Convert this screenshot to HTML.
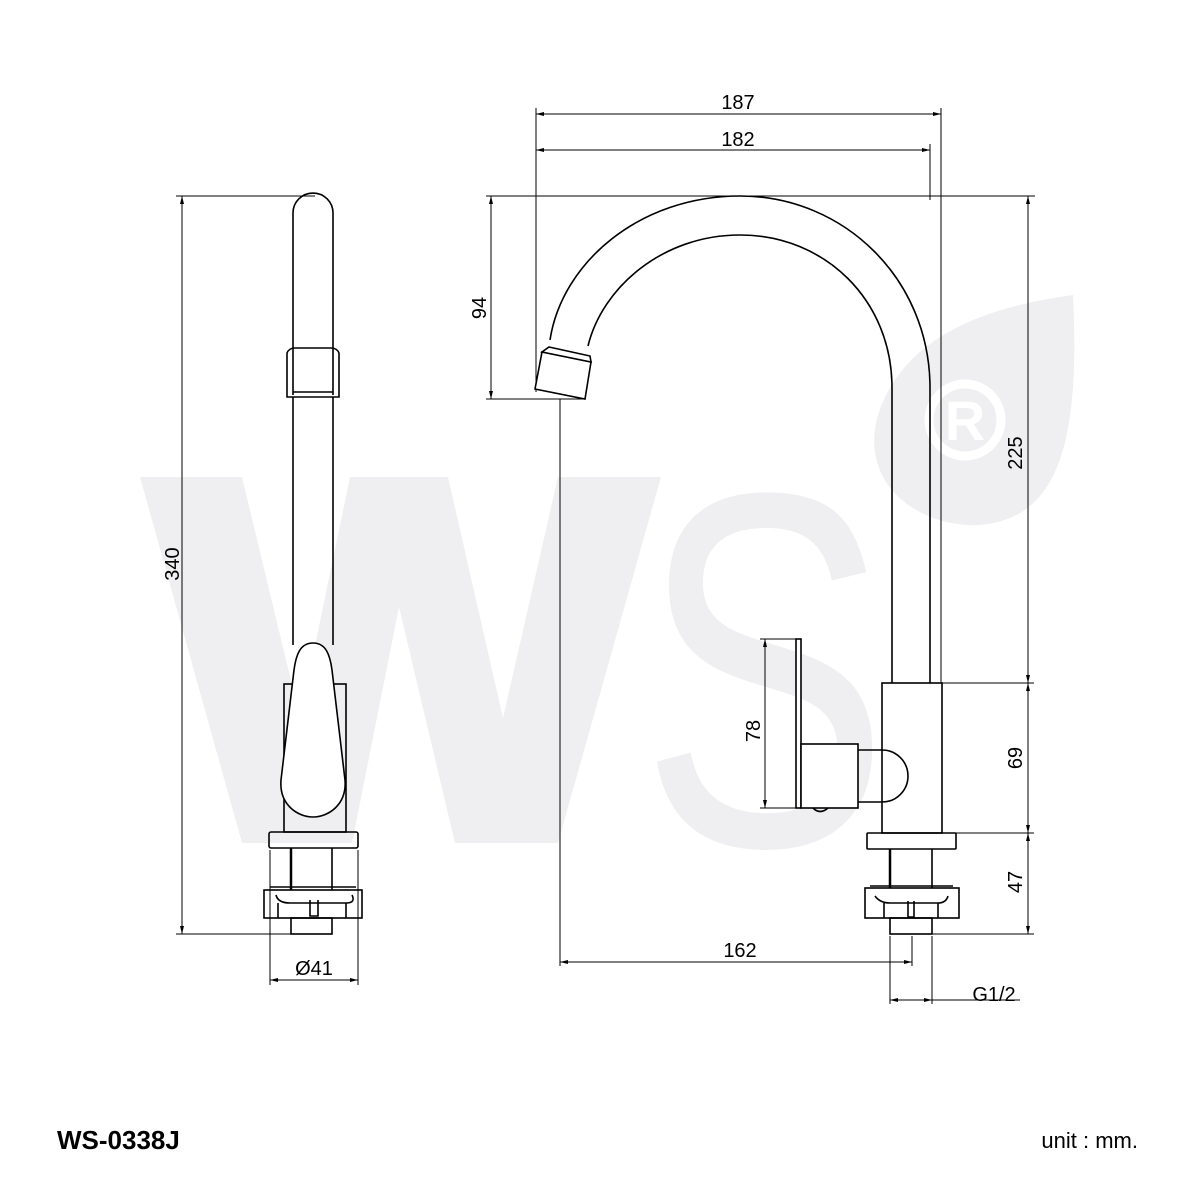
<!DOCTYPE html>
<html><head><meta charset="utf-8"><style>
html,body{margin:0;padding:0;background:#fff;}
svg{display:block;}
text{font-family:"Liberation Sans",sans-serif;}
</style></head><body>
<svg width="1181" height="1181" viewBox="0 0 1181 1181" xmlns="http://www.w3.org/2000/svg">
<g fill="#efeff1">
<polygon points="140,477 242,477 300,718 350,477 448,477 503,718 558,477 661,477 558,843 455,843 399,607 352,843 242,843"/>
<text x="0" y="0" font-size="505" transform="translate(640,845) scale(0.74,1)">S</text>
<path d="M1073,295 C1000,305 905,330 878,415 C858,485 920,528 980,525 C1060,518 1080,440 1073,295 Z"/>
</g>
<circle cx="965" cy="420" r="36" fill="none" stroke="#fff" stroke-width="9"/>
<text x="965" y="440" font-size="56" font-weight="bold" fill="#fff" text-anchor="middle">R</text>

<g fill="none" stroke="#000" stroke-width="1">
<line x1="182" y1="196" x2="182" y2="934"/>
<line x1="176" y1="196" x2="315" y2="196"/>
<line x1="176" y1="934" x2="292" y2="934"/>
<line x1="270" y1="850" x2="270" y2="985"/>
<line x1="358" y1="850" x2="358" y2="985"/>
<line x1="270" y1="980" x2="358" y2="980"/>
<line x1="536" y1="108" x2="536" y2="392"/>
<line x1="941" y1="108" x2="941" y2="683"/>
<line x1="930" y1="144" x2="930" y2="200"/>
<line x1="536" y1="114" x2="941" y2="114"/>
<line x1="536" y1="150" x2="930" y2="150"/>
<line x1="486" y1="196" x2="1035" y2="196"/>
<line x1="491" y1="196" x2="491" y2="399"/>
<line x1="486" y1="399" x2="585" y2="399"/>
<line x1="560" y1="399" x2="560" y2="966"/>
<line x1="1028" y1="196" x2="1028" y2="934"/>
<line x1="942" y1="683" x2="1034" y2="683"/>
<line x1="956" y1="833" x2="1034" y2="833"/>
<line x1="932" y1="934" x2="1034" y2="934"/>
<line x1="765" y1="639" x2="765" y2="808"/>
<line x1="760" y1="639" x2="796" y2="639"/>
<line x1="760" y1="808" x2="796" y2="808"/>
<line x1="560" y1="962" x2="912" y2="962"/>
<line x1="912" y1="936" x2="912" y2="966"/>
<line x1="890" y1="936" x2="890" y2="1004"/>
<line x1="932" y1="936" x2="932" y2="1004"/>
<line x1="890" y1="1000" x2="1020" y2="1000"/>
</g>
<g fill="#000">
<polygon points="182,196 180,204 184,204"/><polygon points="182,934 180,926 184,926"/>
<polygon points="270,980 278,978 278,982"/><polygon points="358,980 350,978 350,982"/>
<polygon points="536,114 544,112 544,116"/><polygon points="941,114 933,112 933,116"/>
<polygon points="536,150 544,148 544,152"/><polygon points="930,150 922,148 922,152"/>
<polygon points="491,196 489,204 493,204"/><polygon points="491,399 489,391 493,391"/>
<polygon points="1028,196 1026,204 1030,204"/><polygon points="1028,683 1026,675 1030,675"/>
<polygon points="1028,683 1026,691 1030,691"/><polygon points="1028,833 1026,825 1030,825"/>
<polygon points="1028,833 1026,841 1030,841"/><polygon points="1028,934 1026,926 1030,926"/>
<polygon points="765,639 763,647 767,647"/><polygon points="765,808 763,800 767,800"/>
<polygon points="560,962 568,960 568,964"/><polygon points="912,962 904,960 904,964"/>
<polygon points="890,1000 898,998 898,1002"/><polygon points="932,1000 924,998 924,1002"/>
</g>

<g fill="none" stroke="#000" stroke-width="1.6">
<path d="M293,395 V213 A20,20 0 0 1 333,213 V395"/>
<path d="M287,353 Q289,348 295,348 H331 Q337,348 339,353 V397 H287 Z"/>
<line x1="293" y1="392" x2="333" y2="392"/>
<line x1="293" y1="397" x2="293" y2="645"/>
<line x1="333" y1="397" x2="333" y2="645"/>
<rect x="284" y="684" width="62" height="148"/>
<path d="M313,643 C300,643 296,655 294,670 L281,780 C279,805 298,817 313,817 C328,817 347,805 345,780 L332,670 C330,655 326,643 313,643 Z" fill="#fff"/>
<rect x="269" y="832" width="89" height="16" rx="2"/>
<line x1="291" y1="848" x2="291" y2="890" stroke-width="2.5"/>
<line x1="332" y1="848" x2="332" y2="890"/>
<rect x="264" y="890" width="98" height="28"/>
<line x1="270" y1="887" x2="356" y2="887"/>
<path d="M276,895 Q278,903 290,903 H346 Q356,903 352,895"/>
<path d="M278,903 V918 M346,903 V918 M310,900 V916 H318 V900"/>
<rect x="291" y="918" width="41" height="16"/>
<path d="M930,683 V388 C930,280 845,196 740,196 C640,196 562,262 550,340"/>
<path d="M892,683 V388 C892,300 825,235 740,235 C662,235 602,288 588,346"/>
<polygon points="542,352 591,362 585,399 535,389" fill="#fff"/>
<polygon points="549,347 590,356 591,362 542,352" fill="#fff"/>
<rect x="882" y="683" width="60" height="150" fill="#fff"/>
<path d="M858,750 H882 A26,26 0 0 1 882,802 H858"/>
<rect x="796" y="639" width="5" height="169" fill="#fff"/>
<rect x="801" y="744" width="57" height="64" fill="#fff"/>
<path d="M813,808 Q820,815 828,808"/>
<rect x="867" y="833" width="89" height="16" rx="1"/>
<line x1="890" y1="849" x2="890" y2="888" stroke-width="2.5"/>
<line x1="932" y1="849" x2="932" y2="888"/>
<rect x="865" y="888" width="94" height="30"/>
<line x1="870" y1="886" x2="953" y2="886"/>
<path d="M875,896 Q880,903 890,903 H938 Q946,903 948,896"/>
<path d="M884,903 V918 M938,903 V918 M908,901 V917 H914 V901"/>
<rect x="890" y="918" width="42" height="16"/>
</g>

<g font-size="20" fill="#000" text-anchor="middle">
<text x="738" y="109">187</text>
<text x="738" y="146">182</text>
<text x="0" y="0" transform="translate(486,308) rotate(-90)">94</text>
<text x="0" y="0" transform="translate(1022,453) rotate(-90)">225</text>
<text x="0" y="0" transform="translate(1022,758) rotate(-90)">69</text>
<text x="0" y="0" transform="translate(1022,882) rotate(-90)">47</text>
<text x="0" y="0" transform="translate(760,731) rotate(-90)">78</text>
<text x="0" y="0" transform="translate(179,564) rotate(-90)">340</text>
<text x="740" y="957">162</text>
<text x="314" y="975">Ø41</text>
<text x="994" y="1001">G1/2</text>
</g>
<text x="57" y="1149" font-size="26" font-weight="bold" fill="#000">WS-0338J</text>
<text x="1138" y="1148" font-size="22" fill="#000" text-anchor="end">unit : mm.</text>
</svg>
</body></html>
